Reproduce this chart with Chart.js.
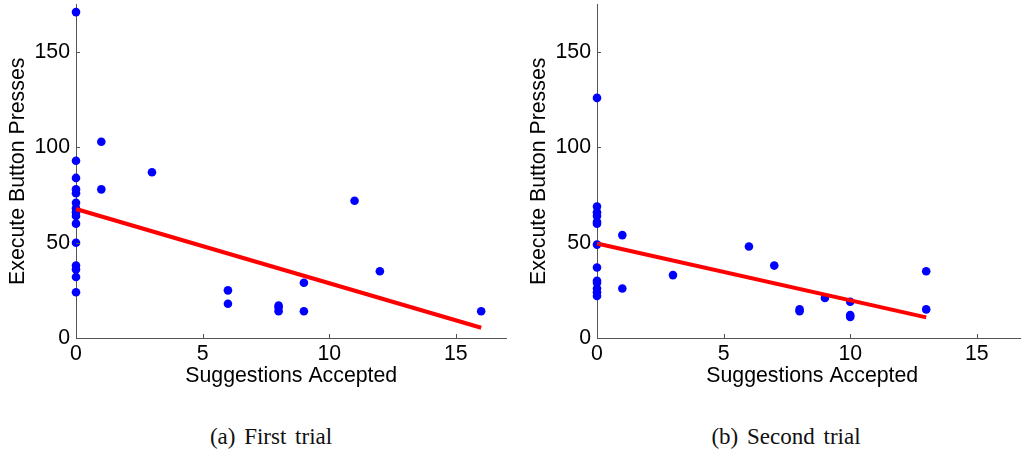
<!DOCTYPE html>
<html>
<head>
<meta charset="utf-8">
<script src="https://cdn.jsdelivr.net/npm/chart.js@4/dist/chart.umd.min.js"></script>
<style>
  html, body { margin: 0; padding: 0; background: #fff; overflow: hidden; width: 1021px; height: 458px; }
  .wrap { position: absolute; top: 0; width: 520px; height: 400px; }
  .cap { position: absolute; top: 424px; font-family: "Liberation Serif", "DejaVu Serif", serif; font-size: 23px; color: #111; white-space: nowrap; transform: translateX(-50%); word-spacing: 3px; }
</style>
</head>
<body>
<div class="wrap" style="left:0px"><canvas id="c1" width="520" height="400"></canvas></div>
<div class="wrap" style="left:521px"><canvas id="c2" width="520" height="400"></canvas></div>
<div class="cap" style="left:271px">(a) First trial</div>
<div class="cap" style="left:786px">(b) Second trial</div>
<script>
// ---- data ----
const xTitle = "Suggestions Accepted";
const yTitle = "Execute Button Presses";
const xTicks = [0, 5, 10, 15];
const yTicks = [0, 50, 100, 150];
const xMax = 17;
const yMax = 175;

const firstTrialX = [0,0,0,0,0,0,0,0,0,0,0,0,0,0,0, 1,1, 3, 6,6, 8,8,8, 9,9, 11, 12, 16];
const firstTrialY = [171,93,84,78,76,71,68,66,64,60,50,38,36,32,24, 103,78, 87, 25,18, 17,16,14, 29,14, 72, 35, 14];
const firstFitX = [0, 16];
const firstFitY = [67.7, 5.4];

const secondTrialX = [0,0,0,0,0,0,0,0,0,0,0,0,0, 1,1, 3, 6, 7, 8,8, 9, 10,10,10, 13,13];
const secondTrialY = [126,69,66,64,61,60,49,37,30,29,26,24,22, 54,26, 33, 48, 38, 15,14, 21, 19,12,11, 35,15];
const secondFitX = [0, 13];
const secondFitY = [49.6, 10.8];

const captions = ["(a) First trial", "(b) Second trial"];

// ---- chart ----
Chart.defaults.font.family = "'Liberation Sans', Arial, Helvetica, sans-serif";
Chart.defaults.color = "#000";
const axisColor = "#555";

function pts(xs, ys) { return xs.map((x, i) => ({x: x, y: ys[i]})); }

const inwardTicks = {
  id: 'inwardTicks',
  afterDatasetsDraw(chart) {
    const ctx = chart.ctx;
    const xs = chart.scales.x, ys = chart.scales.y;
    const a = chart.chartArea;
    ctx.save();
    ctx.strokeStyle = axisColor;
    ctx.lineWidth = 1;
    ctx.beginPath();
    xTicks.forEach(v => {
      if (v === 0) return;
      const px = Math.round(xs.getPixelForValue(v)) + 0.5;
      ctx.moveTo(px, a.bottom);
      ctx.lineTo(px, a.bottom - 4);
    });
    yTicks.forEach(v => {
      if (v === 0) return;
      const py = Math.round(ys.getPixelForValue(v)) + 0.5;
      ctx.moveTo(a.left, py);
      ctx.lineTo(a.left + 4, py);
    });
    ctx.stroke();
    ctx.restore();
  }
};

function makeChart(id, xs, ys, fx, fy) {
  return new Chart(document.getElementById(id), {
    type: 'scatter',
    data: {
      datasets: [
        {
          type: 'line',
          data: pts(fx, fy),
          borderColor: '#ff0000',
          borderWidth: 4,
          pointRadius: 0,
          fill: false,
          clip: false,
          order: 0
        },
        {
          data: pts(xs, ys),
          backgroundColor: '#0000ff',
          borderColor: '#0000ff',
          borderWidth: 0,
          pointRadius: 4.3,
          clip: false,
          order: 1
        }
      ]
    },
    options: {
      responsive: false,
      animation: false,
      events: [],
      layout: { padding: { left: 0, top: 4.5, right: 13.5, bottom: 0 } },
      plugins: { legend: { display: false }, tooltip: { enabled: false } },
      scales: {
        x: {
          type: 'linear',
          min: 0, max: xMax,
          afterBuildTicks(s) { s.ticks = xTicks.map(v => ({value: v})); },
          afterFit(s) { s.height = 62; s.paddingLeft = 0; s.paddingRight = 0; },
          grid: { display: false, drawTicks: false },
          border: { display: true, color: axisColor, width: 1 },
          ticks: { padding: 3, font: { size: 21.3 }, color: '#000' },
          title: { display: true, text: xTitle, font: { size: 21.3 }, color: '#000', padding: { top: 0, bottom: 11 } }
        },
        y: {
          type: 'linear',
          min: 0, max: yMax,
          afterBuildTicks(s) { s.ticks = yTicks.map(v => ({value: v})); },
          afterFit(s) { s.width = 76; s.paddingTop = 0; s.paddingBottom = 0; },
          grid: { display: false, drawTicks: false },
          border: { display: true, color: axisColor, width: 1 },
          ticks: { padding: 6, font: { size: 21.3 }, color: '#000' },
          title: { display: true, text: yTitle, font: { size: 21.3 }, color: '#000', padding: { top: 5.5, bottom: 0 } }
        }
      }
    },
    plugins: [inwardTicks]
  });
}

makeChart('c1', firstTrialX, firstTrialY, firstFitX, firstFitY);
makeChart('c2', secondTrialX, secondTrialY, secondFitX, secondFitY);
</script>
</body>
</html>
